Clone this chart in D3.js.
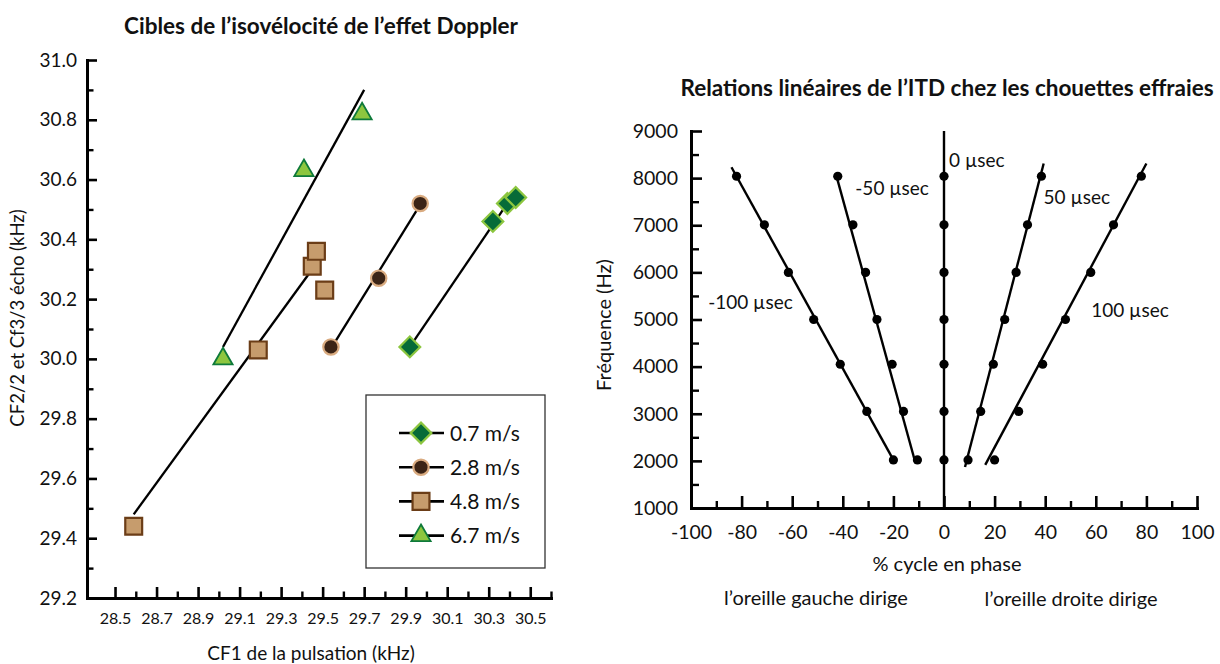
<!DOCTYPE html>
<html>
<head>
<meta charset="utf-8">
<script src="https://cdn.jsdelivr.net/npm/d3@7"></script>
<style>
  body { margin: 0; background: #fff; }
  svg { display: block; }
  text { font-family: Lato, "Open Sans", sans-serif; fill: #111; }
</style>
</head>
<body>
<svg id="fig" width="1220" height="664"></svg>
<script>
// ---------- Doppler iso-velocity targets (kHz) ----------
const speedLabels = ["0.7 m/s", "2.8 m/s", "4.8 m/s", "6.7 m/s"];

const cf1_07 = [29.92, 30.32, 30.39, 30.43];
const echo_07 = [30.04, 30.46, 30.52, 30.54];
const fit_07 = [[29.92, 30.04], [30.37, 30.50]];

const cf1_28 = [29.54, 29.77, 29.97];
const echo_28 = [30.04, 30.27, 30.52];
const fit_28 = [[29.545, 30.04], [29.965, 30.51]];

const cf1_48 = [28.59, 29.19, 29.45, 29.47, 29.51];
const echo_48 = [29.44, 30.03, 30.31, 30.36, 30.23];
const fit_48 = [[28.59, 29.48], [29.45, 30.30]];

const cf1_67 = [29.02, 29.41, 29.69];
const echo_67 = [30.00, 30.63, 30.82];
const fit_67 = [[29.02, 30.04], [29.70, 30.90]];

const dopplerXTicks = [28.5, 28.7, 28.9, 29.1, 29.3, 29.5, 29.7, 29.9, 30.1, 30.3, 30.5];
const dopplerXMinor = [28.6, 28.8, 29.0, 29.2, 29.4, 29.6, 29.8, 30.0, 30.2, 30.4, 30.6];
const dopplerYTicks = [29.2, 29.4, 29.6, 29.8, 30.0, 30.2, 30.4, 30.6, 30.8, 31.0];
const dopplerYMinor = [29.3, 29.5, 29.7, 29.9, 30.1, 30.3, 30.5, 30.7, 30.9];

// ---------- ITD linear relations in barn owls ----------
const freqHz = [2020, 3050, 4050, 5000, 6000, 7010, 8040];
const phaseM100 = [-20, -30.5, -41, -51.5, -61.5, -71, -82];
const phaseM50 = [-10.5, -16, -20.5, -26.5, -31, -36, -42];
const phase0 = [0, 0, 0, 0, 0, 0, 0];
const phaseP50 = [9.5, 14.5, 19.5, 24, 28.5, 33, 38.5];
const phaseP100 = [20, 29.5, 39, 48, 58, 67, 78];

const itdLabels = ["-100 µsec", "-50 µsec", "0 µsec", "50 µsec", "100 µsec"];
const itdLabelAt = [[-76.5, 5370], [-20.5, 7790], [13, 8380], [52.5, 7600], [73.5, 5200]];
const fitM100 = [[-20.5, 2070], [-84, 8230]];
const fitM50 = [[-11.3, 1960], [-42.8, 8100]];
const fit0 = [[0, 1000], [0, 9000]];
const fitP50 = [[8.3, 1870], [39.4, 8310]];
const fitP100 = [[16.3, 1915], [80, 8310]];

const phaseTicks = [-100, -80, -60, -40, -20, 0, 20, 40, 60, 80, 100];
const phaseMinor = [-90, -70, -50, -30, -10, 10, 30, 50, 70, 90];
const freqTicks = [1000, 2000, 3000, 4000, 5000, 6000, 7000, 8000, 9000];
const freqMinor = [1500, 2500, 3500, 4500, 5500, 6500, 7500, 8500];

const svg = d3.select("#fig");

function styleAxis(g, size) {
  g.attr("font-family", null).attr("font-size", null);
  g.selectAll("text").style("font-size", size + "px").style("fill", "#111");
  g.select(".domain").attr("stroke", "#000").attr("stroke-width", 3).attr("stroke-linecap", "square");
  g.selectAll(".tick line").attr("stroke", "#000").attr("stroke-width", 2.6);
}
function minorAxis(g) {
  g.select(".domain").remove();
  g.selectAll(".tick line").attr("stroke", "#000").attr("stroke-width", 2.4);
}

// ================= Left panel =================
const xD = d3.scaleLinear().domain([28.365, 30.6]).range([87, 551]);
const yD = d3.scaleLinear().domain([29.2, 31.0]).range([598, 60]);

const left = svg.append("g");

left.append("g").attr("transform", `translate(0,${yD(29.2)})`)
  .call(d3.axisBottom(xD).tickValues(dopplerXMinor).tickSize(-6.5).tickSizeOuter(0).tickFormat(""))
  .call(minorAxis);
left.append("g").attr("transform", `translate(${xD(28.365)},0)`)
  .call(d3.axisLeft(yD).tickValues(dopplerYMinor).tickSize(-6.5).tickSizeOuter(0).tickFormat(""))
  .call(minorAxis);
left.append("g").attr("transform", `translate(0,${yD(29.2)})`)
  .call(d3.axisBottom(xD).tickValues(dopplerXTicks).tickSize(-11).tickSizeOuter(0).tickPadding(15).tickFormat(d3.format(".1f")))
  .call(g => styleAxis(g, 16));
left.append("g").attr("transform", `translate(${xD(28.365)},0)`)
  .call(d3.axisLeft(yD).tickValues(dopplerYTicks).tickSize(-10).tickSizeOuter(0).tickPadding(10).tickFormat(d3.format(".1f")))
  .call(g => styleAxis(g, 19));

const dline = d3.line().x(d => xD(d[0])).y(d => yD(d[1]));

const markerStyles = [
  { type: d3.symbolSquare, size: 215, rotate: 45, fill: "#066b38", stroke: "#8cc63f", sw: 2.2 },
  { type: d3.symbolCircle, size: 185, rotate: 0, fill: "#3b2416", stroke: "#d9ab80", sw: 2.2 },
  { type: d3.symbolSquare, size: 285, rotate: 0, fill: "#c69c6d", stroke: "#6b3d17", sw: 2.2 },
  { type: d3.symbolTriangle, size: 160, rotate: 0, fill: "#8dc63f", stroke: "#0e7a3a", sw: 1.8 }
];
const dopplerSeries = [
  { x: cf1_07, y: echo_07, fit: fit_07 },
  { x: cf1_28, y: echo_28, fit: fit_28 },
  { x: cf1_48, y: echo_48, fit: fit_48 },
  { x: cf1_67, y: echo_67, fit: fit_67 }
];

dopplerSeries.forEach(s => {
  left.append("path").attr("d", dline(s.fit))
    .attr("fill", "none").attr("stroke", "#000").attr("stroke-width", 2.3);
});
dopplerSeries.forEach((s, i) => {
  const m = markerStyles[i];
  const sym = d3.symbol().type(m.type).size(m.size);
  left.append("g").selectAll("path").data(s.x.map((v, k) => [v, s.y[k]])).join("path")
    .attr("d", sym)
    .attr("transform", d => `translate(${xD(d[0])},${yD(d[1])}) rotate(${m.rotate})`)
    .attr("fill", m.fill).attr("stroke", m.stroke).attr("stroke-width", m.sw);
});

// legend
const lg = left.append("g").attr("transform", "translate(366,395)");
lg.append("rect").attr("width", 179).attr("height", 173)
  .attr("fill", "#fff").attr("stroke", "#333").attr("stroke-width", 1.3);
speedLabels.forEach((lab, i) => {
  const m = markerStyles[i];
  const row = lg.append("g").attr("transform", `translate(0,${38 + i * 34.2})`);
  row.append("line").attr("x1", 33).attr("x2", 78).attr("stroke", "#000").attr("stroke-width", 2.6);
  row.append("path").attr("d", d3.symbol().type(m.type).size(m.size)())
    .attr("transform", `translate(55,0) rotate(${m.rotate})`)
    .attr("fill", m.fill).attr("stroke", m.stroke).attr("stroke-width", m.sw);
  row.append("text").attr("x", 84).attr("dy", "0.36em").style("font-size", "21px").text(lab);
});

left.append("text").attr("x", 321).attr("y", 34).attr("text-anchor", "middle")
  .style("font-size", "22.5px").style("font-weight", "700")
  .text("Cibles de l’isovélocité de l’effet Doppler");
left.append("text").attr("x", 311).attr("y", 660).attr("text-anchor", "middle")
  .style("font-size", "19px").text("CF1 de la pulsation (kHz)");
left.append("text").attr("transform", "translate(24,318) rotate(-90)").attr("text-anchor", "middle")
  .style("font-size", "18.5px").text("CF2/2 et Cf3/3 écho (kHz)");

// ================= Right panel =================
const xP = d3.scaleLinear().domain([-100, 100]).range([691, 1197]);
const yF = d3.scaleLinear().domain([1000, 9000]).range([508, 131]);

const right = svg.append("g");

right.append("g").attr("transform", `translate(0,${yF(1000)})`)
  .call(d3.axisBottom(xP).tickValues(phaseMinor).tickSize(-7).tickSizeOuter(0).tickFormat(""))
  .call(minorAxis);
right.append("g").attr("transform", `translate(${xP(-100)},0)`)
  .call(d3.axisLeft(yF).tickValues(freqMinor).tickSize(-8).tickSizeOuter(0).tickFormat(""))
  .call(minorAxis);
right.append("g").attr("transform", `translate(0,${yF(1000)})`)
  .call(d3.axisBottom(xP).tickValues(phaseTicks).tickSize(-12).tickSizeOuter(0).tickPadding(17).tickFormat(d => String(d)))
  .call(g => styleAxis(g, 19.5));
right.append("g").attr("transform", `translate(${xP(-100)},0)`)
  .call(d3.axisLeft(yF).tickValues(freqTicks).tickSize(-11).tickSizeOuter(0).tickPadding(13).tickFormat(d => String(d)))
  .call(g => styleAxis(g, 19.5));

const pline = d3.line().x(d => xP(d[0])).y(d => yF(d[1]));
[fitM100, fitM50, fit0, fitP50, fitP100].forEach(f => {
  right.append("path").attr("d", pline(f))
    .attr("fill", "none").attr("stroke", "#000").attr("stroke-width", 2.4);
});
[phaseM100, phaseM50, phase0, phaseP50, phaseP100].forEach(ph => {
  right.append("g").selectAll("circle").data(ph.map((p, k) => [p, freqHz[k]])).join("circle")
    .attr("cx", d => xP(d[0])).attr("cy", d => yF(d[1])).attr("r", 4.6).attr("fill", "#000");
});
itdLabels.forEach((lab, i) => {
  right.append("text").attr("x", xP(itdLabelAt[i][0])).attr("y", yF(itdLabelAt[i][1]))
    .attr("dy", "0.35em").attr("text-anchor", "middle").style("font-size", "19px").text(lab);
});

right.append("text").attr("x", 947).attr("y", 96).attr("text-anchor", "middle")
  .style("font-size", "22.5px").style("font-weight", "700")
  .text("Relations linéaires de l’ITD chez les chouettes effraies");
right.append("text").attr("x", 947).attr("y", 571).attr("text-anchor", "middle")
  .style("font-size", "20px").text("% cycle en phase");
right.append("text").attr("x", 816).attr("y", 605).attr("text-anchor", "middle")
  .style("font-size", "20px").text("l’oreille gauche dirige");
right.append("text").attr("x", 1071).attr("y", 606).attr("text-anchor", "middle")
  .style("font-size", "20px").text("l’oreille droite dirige");
right.append("text").attr("transform", "translate(611,325) rotate(-90)").attr("text-anchor", "middle")
  .style("font-size", "20px").text("Fréquence (Hz)");
</script>
</body>
</html>
